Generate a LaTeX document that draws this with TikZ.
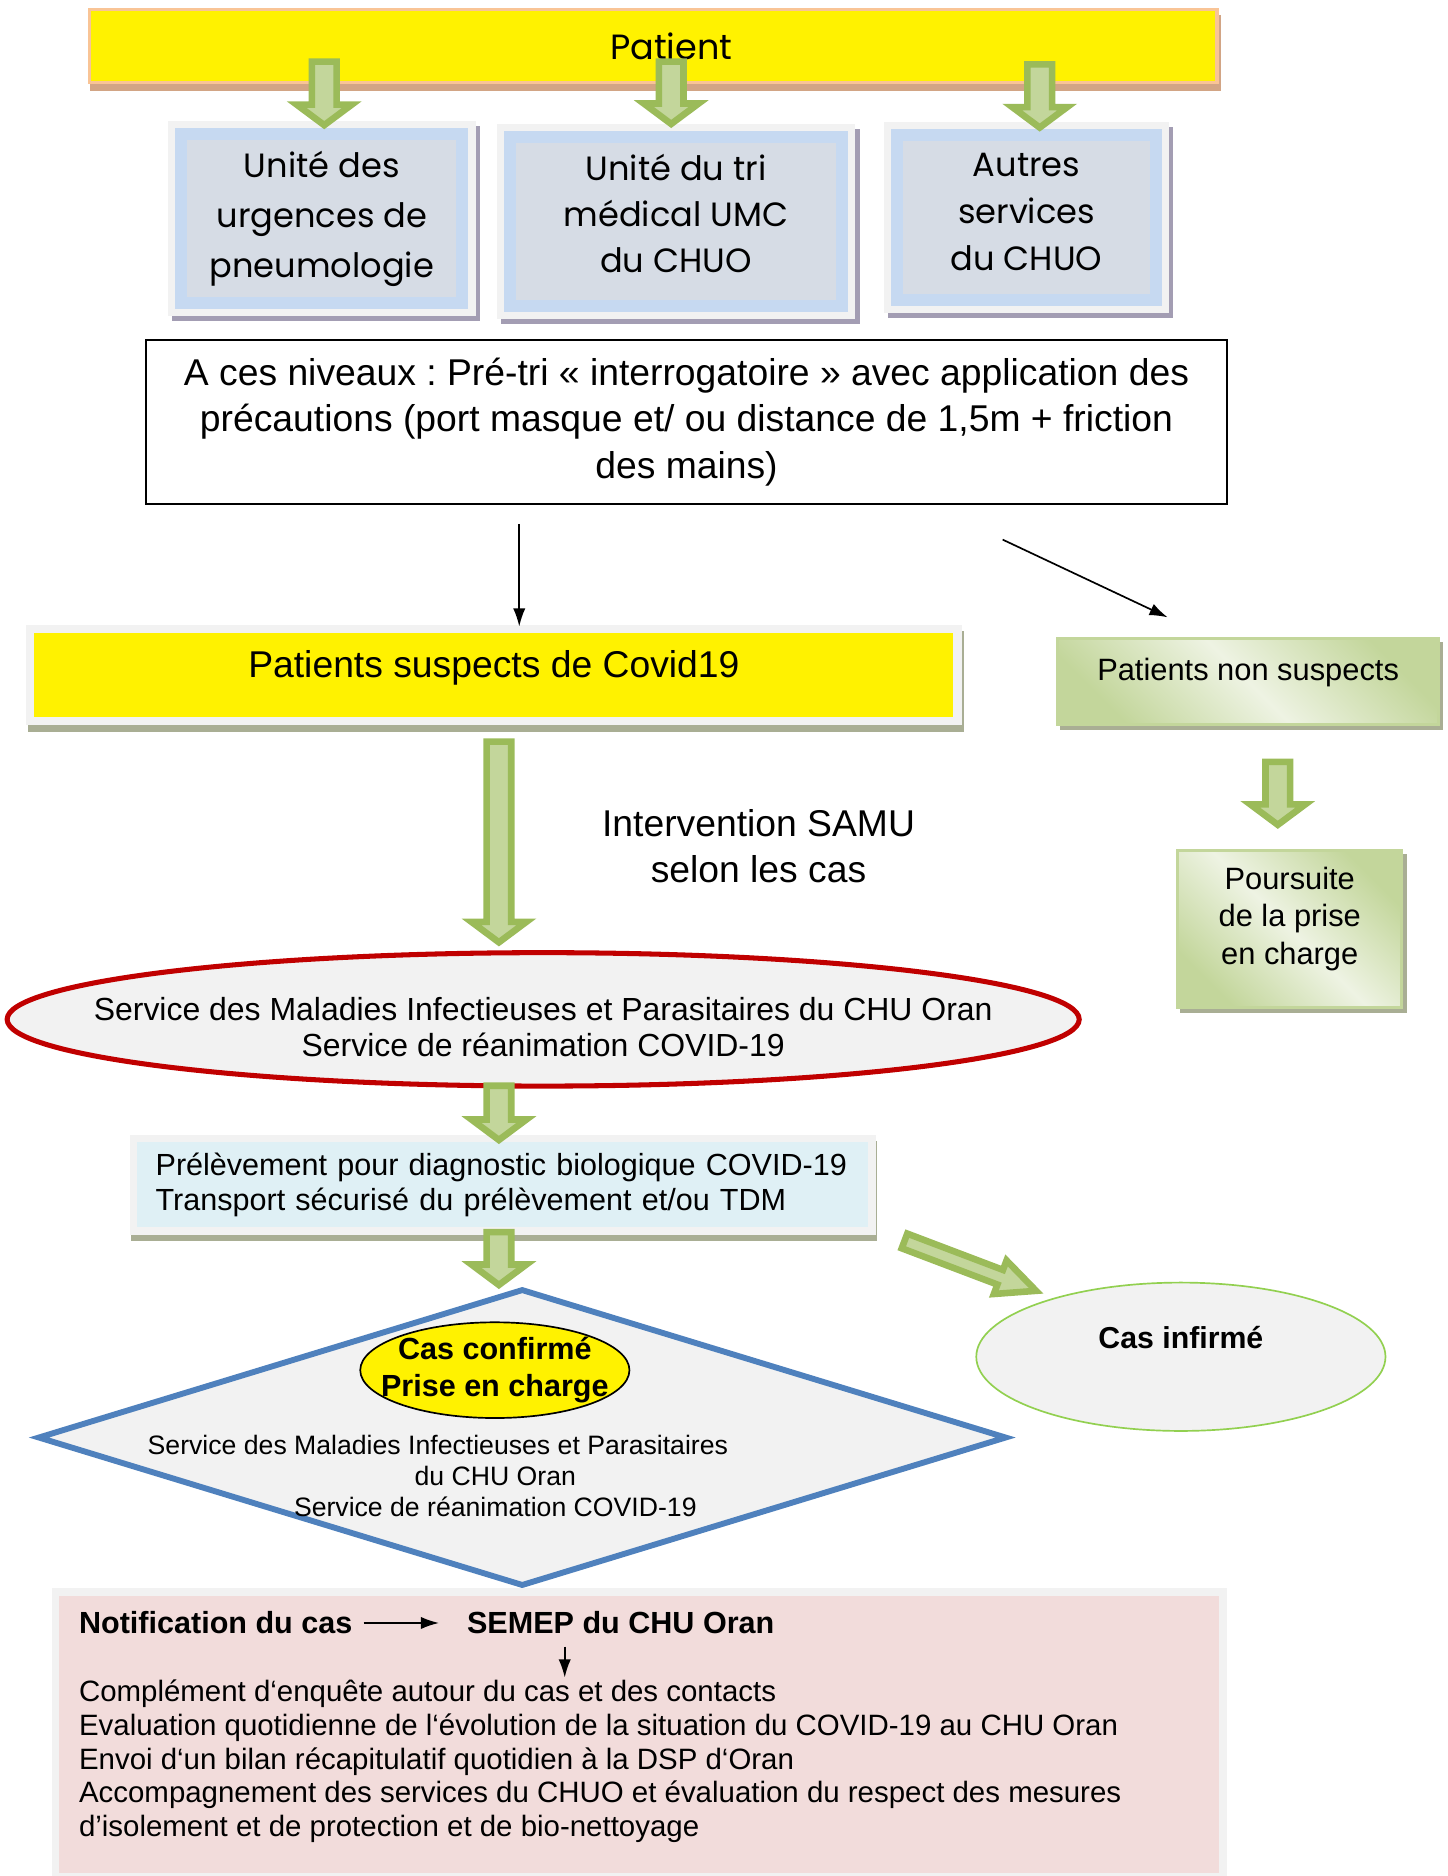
\documentclass[tikz,border=0pt]{standalone}
\usepackage{fontspec}
\setmainfont{Liberation Sans}
\newfontfamily\gothic{Poppins}
\usetikzlibrary{positioning, shapes.geometric, arrows.meta, calc}
\frenchspacing

\definecolor{barshadow}{HTML}{D2A585}
\definecolor{barline}{HTML}{F9C496}
\definecolor{boxblue}{HTML}{C6D9F1}
\definecolor{boxgray}{HTML}{D6DCE5}
\definecolor{framegray}{HTML}{F2F2F2}
\definecolor{blueshadow}{HTML}{A39DB3}
\definecolor{oliveshadow}{HTML}{A9AE94}
\definecolor{gdark}{HTML}{C3D69B}
\definecolor{glight}{HTML}{EEF3E3}
\definecolor{gline}{HTML}{9BBB59}
\definecolor{redline}{HTML}{C00000}
\definecolor{cyanfill}{HTML}{DFF0F5}
\definecolor{diamblue}{HTML}{4F81BD}
\definecolor{infgreen}{HTML}{92D050}
\definecolor{pinkfill}{HTML}{F2DCDB}

% one pixel of the layout grid
\newcommand{\upx}{0.4268pt}

% green block arrow: start, end, half shaft, half head, head length
\newcommand{\garrow}[5]{%
  \path let \p1=(#1), \p2=(#2) in
    \pgfextra{\pgfmathsetmacro\garang{atan2(\y2-\y1,\x2-\x1)}%
      \pgfmathsetmacro\garlen{veclen(\x2-\x1,\y2-\y1)}%
      \global\let\garang\garang \global\let\garlen\garlen};
  \draw[blockarrow, shift={(#1)}, rotate=\garang]
    (0pt,-#3) -- (\garlen pt-#5,-#3) -- (\garlen pt-#5,-#4) -- (\garlen pt,0pt)
    -- (\garlen pt-#5,#4) -- (\garlen pt-#5,#3) -- (0pt,#3) -- cycle;
}

\tikzset{
  blockarrow/.style={draw=gline, fill=gdark, line width=2.35pt, line join=miter},
  blackarrow/.style={-{Latex[length=6.5pt,width=4.4pt]}, line width=0.6pt},
  patientbar/.style={fill=yellow, draw=barline, line width=1.2pt,
    font=\gothic\fontsize{12.5}{15}\selectfont,
    preaction={fill=barshadow, draw=barshadow, line width=1.2pt,
      transform canvas={xshift=0.8pt, yshift=-2.4pt}}},
  unitbox/.style={fill=boxgray, draw=boxblue, line width=10*\upx, inner sep=0pt,
    align=center, font=\gothic\fontsize{12}{17.9}\selectfont,
    preaction={draw=blueshadow, line width=22*\upx,
      transform canvas={xshift=1.5pt, yshift=-1.8pt}},
    preaction={draw=framegray, fill=framegray, line width=22*\upx}},
  pretri/.style={draw, line width=0.7pt, align=center,
    font=\fontsize{13.3}{16.6}\selectfont},
  suspbox/.style={fill=yellow, font=\fontsize{13.3}{16}\selectfont,
    preaction={draw=oliveshadow, line width=14*\upx,
      transform canvas={xshift=0.8pt, yshift=-2.3pt}},
    preaction={draw=framegray, fill=framegray, line width=14*\upx}},
  greenbox/.style={draw=gdark, line width=1pt, align=center,
    top color=gdark, bottom color=gdark, middle color=glight, shading angle=-45,
    font=\fontsize{11}{13.4}\selectfont,
    preaction={draw=oliveshadow, fill=oliveshadow, line width=1pt,
      transform canvas={xshift=1.3pt, yshift=-1.6pt}}},
  redell/.style={ellipse, draw=redline, line width=1.8pt, fill=framegray, inner sep=0pt},
  cyanbox/.style={fill=cyanfill, align=left, inner ysep=0pt,
    font=\fontsize{10.9}{12.5}\selectfont,
    preaction={draw=oliveshadow, line width=12.5*\upx,
      transform canvas={xshift=0.6pt, yshift=-2.4pt}},
    preaction={draw=framegray, fill=framegray, line width=12.5*\upx}},
  pinkbox/.style={fill=pinkfill,
    preaction={draw=framegray, fill=framegray, line width=13*\upx}},
  plain/.style={inner sep=0pt}
}

\begin{document}
\begin{tikzpicture}[x=0.015cm, y=-0.015cm]
\useasboundingbox (0,0) rectangle (1210,1568);

% entree et niveaux
\node[patientbar, minimum width=942*\upx, minimum height=61*\upx] (patient) at (546,38.5) {\hspace*{12.8pt}Patient};
\node[unitbox, minimum width=235*\upx, minimum height=141*\upx] (urgences) at (269,182.7) {Unité des\\urgences de\\pneumologie};
\node[unitbox, minimum width=278*\upx, minimum height=141*\upx, font=\gothic\fontsize{12}{16.4}\selectfont] (umc) at (565,185.4) {Unité du tri\\médical UMC\\du CHUO\rule[-6pt]{0pt}{6pt}};
\node[unitbox, minimum width=216*\upx, minimum height=138*\upx, font=\gothic\fontsize{12}{16.7}\selectfont] (autres) at (858,181.6) {Autres\\services\\du CHUO\rule[-4pt]{0pt}{4pt}};

\node[pretri, minimum width=904*\upx, minimum height=137*\upx] (niveaux) at (573.8,352.5)
  {A ces niveaux : Pré-tri « interrogatoire » avec application des\\précautions (port masque et/ ou distance de 1,5m + friction\\des mains)};

% tri
\node[suspbox, minimum width=768*\upx, minimum height=70*\upx] (suspects) at (412.8,564.3) {\raisebox{8pt}{Patients suspects de Covid19}};
\node[greenbox, minimum width=318*\upx, minimum height=72*\upx] (nonsuspects) at (1043.2,569.6) {\raisebox{9pt}{Patients non suspects}};
\node[greenbox, minimum width=187*\upx, minimum height=131*\upx] (poursuite) at (1078,776.5) {Poursuite\\de la prise\\en charge\rule[-9.5pt]{0pt}{9.5pt}};
\node[font=\fontsize{13.3}{16.4}\selectfont, align=center] (samu) at (634,707) {Intervention SAMU\\selon les cas};

% prise en charge
\node[redell, minimum width=896*\upx, minimum height=111.5*\upx,
  label={[font=\fontsize{11.4}{12.6}\selectfont, align=center, yshift=-2.8pt]center:Service des Maladies Infectieuses et Parasitaires du CHU Oran\\Service de réanimation COVID-19}] (smit) at (454,852) {};
\node[cyanbox, text width=580*\upx, inner xsep=15.5*\upx, minimum height=71*\upx] (prelevement) at (420.1,990.2)
  {Prélèvement pour diagnostic biologique COVID-19\\Transport sécurisé du prélèvement et/ou TDM};

\node[diamond, draw=diamblue, fill=framegray, line width=2.1pt, inner sep=0pt,
  minimum width=810*\upx, minimum height=248.5*\upx] (decision) at (436.5,1201.5) {};
\node[ellipse, draw, line width=0.6pt, fill=yellow, inner sep=0pt,
  minimum width=225*\upx, minimum height=80*\upx,
  label={[font=\bfseries\fontsize{10.9}{13.1}\selectfont, align=center]center:Cas confirmé\\Prise en charge}] (confirme) at (413.6,1145.2) {};
\node[font=\fontsize{9.5}{11.2}\selectfont, align=center] (servtext) at (414,1233.7)
  {Service des Maladies Infectieuses et Parasitaires\hspace{41pt}\mbox{}\\du CHU Oran\\Service de réanimation COVID-19};
\node[ellipse, draw=infgreen, line width=0.6pt, fill=framegray, inner sep=0pt,
  minimum width=342*\upx, minimum height=124*\upx,
  label={[font=\bfseries\fontsize{10.8}{13}\selectfont, yshift=6.8pt]center:Cas infirmé}] (infirme) at (987,1134) {};

% notification
\node[pinkbox, minimum width=969*\upx, minimum height=231.3*\upx] (bilan) at (534.1,1449.4) {};
\node[plain, anchor=west, font=\bfseries\fontsize{10.9}{13}\selectfont] (notif) at (65.6,1356.5) {Notification du cas};
\node[plain, right=40.5pt of notif, font=\bfseries\fontsize{10.9}{13}\selectfont] (semep) {SEMEP du CHU Oran};
\node[plain, anchor=west, align=left, font=\fontsize{10.5}{12.03}\selectfont] (actions) at (65.6,1472.2)
  {Complément d‘enquête autour du cas et des contacts\\
   Evaluation quotidienne de l‘évolution de la situation du COVID-19 au CHU Oran\\
   Envoi d‘un bilan récapitulatif quotidien à la DSP d‘Oran\\
   Accompagnement des services du CHUO et évaluation du respect des mesures\\
   d’isolement et de protection et de bio-nettoyage};

% fleches fines
\coordinate (splitx) at (434,0);
\coordinate (diagA) at (838,451);
\coordinate (diagB) at (976,516);
\coordinate (dropx) at (472,0);
\draw[blackarrow] ([yshift=-6.8pt]niveaux.south -| splitx) -- ([yshift=2.2pt]suspects.north -| splitx);
\draw[blackarrow] (diagA) -- (diagB);
\draw[blackarrow] ([xshift=3.8pt]notif.east) -- ([xshift=-9.8pt]semep.west);
\draw[blackarrow] ([yshift=-4.2pt]semep.south -| dropx) -- ([yshift=0.7pt]actions.north -| dropx);

% fleches vertes
\coordinate (p1a) at (271,51.5);   \coordinate (p1b) at (271,104.6);
\coordinate (p2a) at (561,51.5);   \coordinate (p2b) at (561,103.6);
\coordinate (p3a) at (869,53.8);   \coordinate (p3b) at (869,106.6);
\coordinate (s1a) at (417,619.8);  \coordinate (s1b) at (417,787.6);
\coordinate (n1a) at (1068,636.8); \coordinate (n1b) at (1068,689.4);
\coordinate (e1a) at (417,907.5);  \coordinate (e1b) at (417,952.8);
\coordinate (r1a) at (417,1029.8); \coordinate (r1b) at (417,1074);
\coordinate (r2a) at (756,1037.2); \coordinate (r2b) at (866,1078.9);
\foreach \ga/\gb in {p1a/p1b, p2a/p2b, p3a/p3b, s1a/s1b, n1a/n1b, e1a/e1b, r1a/r1b}
  {\garrow{\ga}{\gb}{4.4pt}{9.8pt}{7.3pt}}
\garrow{r2a}{r2b}{2.8pt}{6.4pt}{13.7pt}

\end{tikzpicture}
\end{document}
